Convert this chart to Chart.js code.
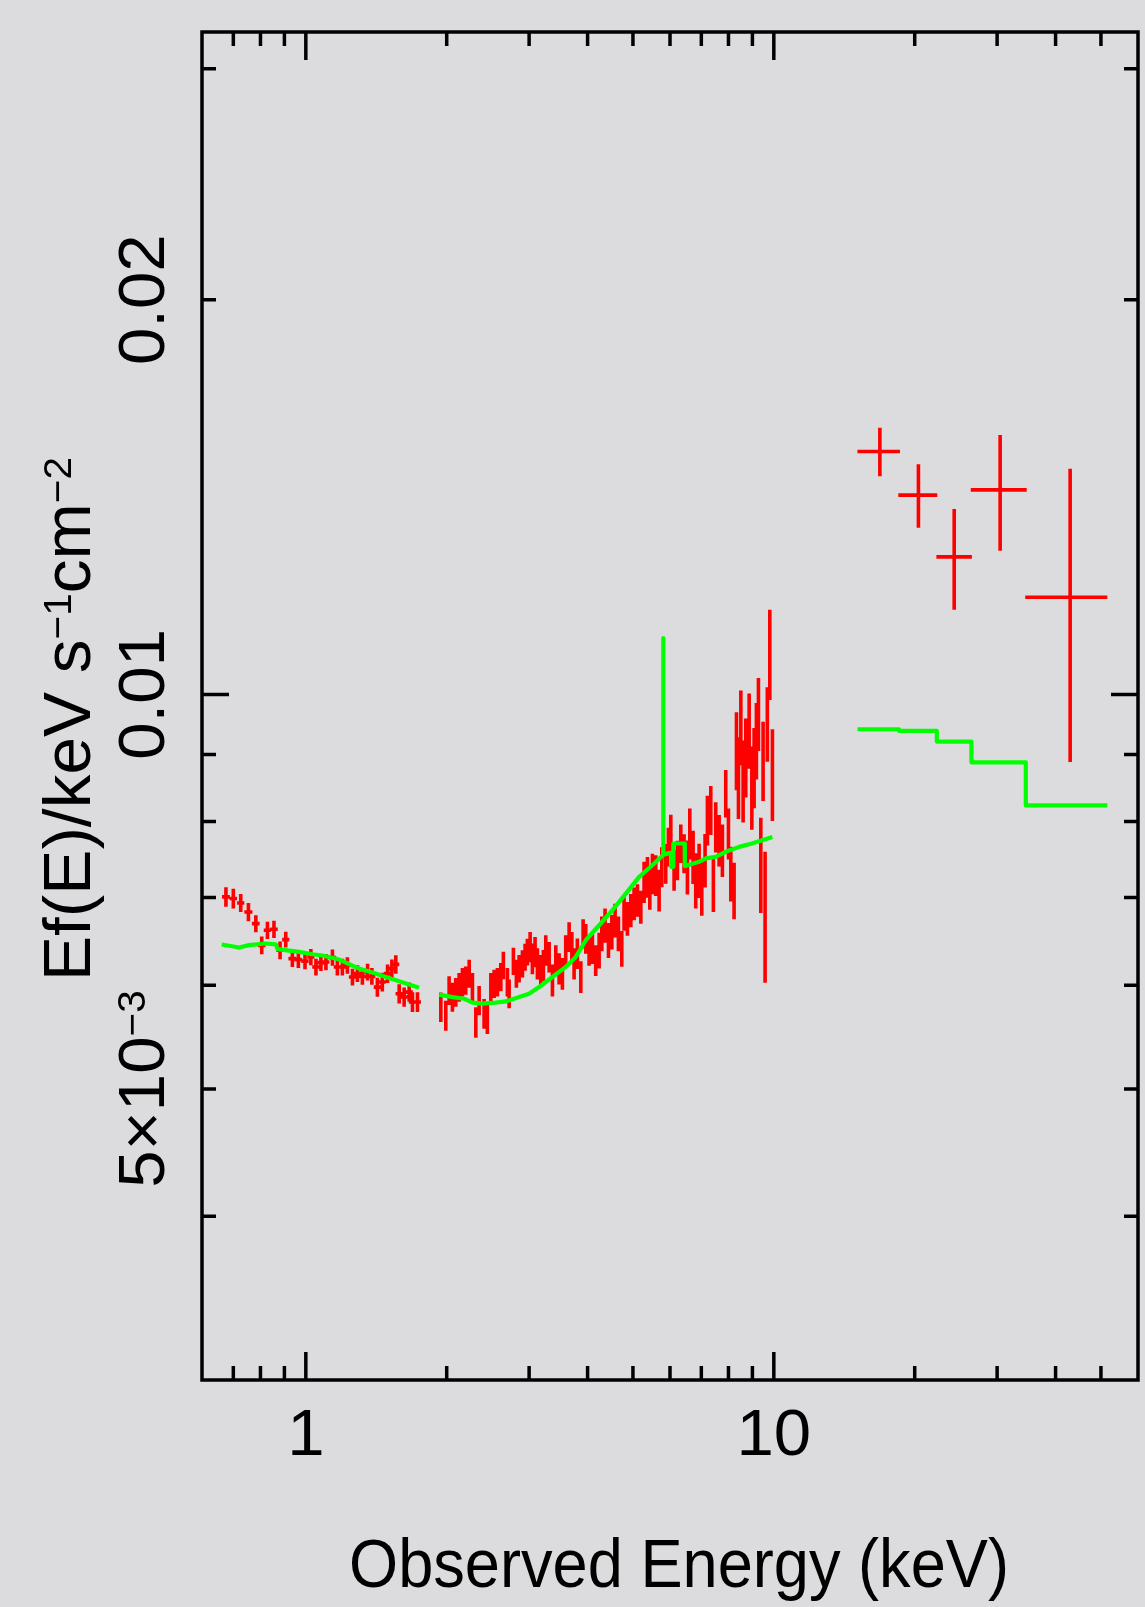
<!DOCTYPE html>
<html>
<head>
<meta charset="utf-8">
<script src="https://cdn.jsdelivr.net/npm/chart.js@4.4.1/dist/chart.umd.min.js"></script>
<style>
  html, body { margin: 0; padding: 0; background: #dcdcde; }
  canvas { display: block; }
</style>
</head>
<body>
<canvas id="spectrum" width="1145" height="1607"></canvas>
<script>
// flux values below are in units of 1e-3 (Ef(E)/keV s^-1 cm^-2)
const U = 1e-3;

// soft band, low energy part (keV)
const loE    = [0.675, 0.700, 0.726, 0.754, 0.782, 0.805, 0.828, 0.855, 0.881, 0.906, 0.936, 0.964, 0.996, 1.025, 1.051, 1.077, 1.104, 1.140, 1.168, 1.197, 1.227, 1.258, 1.289, 1.321, 1.355, 1.384, 1.422, 1.457, 1.495, 1.527, 1.557, 1.583, 1.622, 1.663, 1.690, 1.732];
const loEerr = [0.013, 0.013, 0.013, 0.015, 0.015, 0.015, 0.015, 0.016, 0.016, 0.016, 0.018, 0.018, 0.018, 0.018, 0.019, 0.019, 0.019, 0.021, 0.021, 0.021, 0.022, 0.022, 0.022, 0.024, 0.024, 0.024, 0.025, 0.025, 0.027, 0.027, 0.027, 0.028, 0.028, 0.030, 0.030, 0.030];
const loF    = [7.007, 6.987, 6.933, 6.824, 6.686, 6.436, 6.608, 6.620, 6.380, 6.501, 6.287, 6.276, 6.260, 6.305, 6.195, 6.243, 6.250, 6.298, 6.195, 6.195, 6.213, 6.088, 6.124, 6.095, 6.141, 6.095, 5.981, 6.034, 6.124, 6.178, 6.224, 5.912, 5.877, 5.928, 5.826, 5.826];
const loFerr = [0.12, 0.12, 0.11, 0.11, 0.10, 0.10, 0.10, 0.10, 0.10, 0.09, 0.09, 0.09, 0.09, 0.09, 0.09, 0.09, 0.09, 0.09, 0.09, 0.09, 0.09, 0.09, 0.09, 0.09, 0.09, 0.09, 0.10, 0.10, 0.10, 0.10, 0.10, 0.10, 0.10, 0.10, 0.10, 0.10];

// soft band, 2-10 keV part
const midE = [
  1.943, 1.991, 2.024, 2.057, 2.091, 2.126, 2.161, 2.196, 2.234, 2.270,
  2.308, 2.346, 2.404, 2.443, 2.485, 2.526, 2.567, 2.610, 2.643, 2.696,
  2.719, 2.777, 2.818, 2.856, 2.903, 2.941, 2.974, 3.015, 3.049, 3.089,
  3.125, 3.177, 3.218, 3.256, 3.311, 3.365, 3.421, 3.477, 3.534, 3.592,
  3.653, 3.702, 3.743, 3.804, 3.869, 3.913, 3.964, 4.030, 4.096, 4.163,
  4.234, 4.290, 4.359, 4.433, 4.507, 4.580, 4.655, 4.733, 4.786, 4.866,
  4.948, 5.028, 5.112, 5.198, 5.282, 5.370, 5.433, 5.503, 5.594, 5.687,
  5.763, 5.875, 5.954, 6.024, 6.122, 6.223, 6.327, 6.430, 6.537, 6.614,
  6.722, 6.810, 6.924, 7.016, 7.130, 7.213, 7.333, 7.428, 7.514, 7.640,
  7.765, 7.893, 7.999, 8.093, 8.224, 8.321, 8.403, 8.502, 8.598, 8.711,
  8.857, 8.975, 9.076, 9.178, 9.271, 9.380, 9.486, 9.579, 9.686, 9.804,
  9.931];
const midEerr = [
  0.016, 0.016, 0.016, 0.016, 0.017, 0.017, 0.017, 0.018, 0.018, 0.018,
  0.018, 0.019, 0.019, 0.020, 0.020, 0.020, 0.021, 0.021, 0.021, 0.022,
  0.022, 0.022, 0.023, 0.023, 0.023, 0.024, 0.024, 0.024, 0.024, 0.025,
  0.025, 0.025, 0.026, 0.026, 0.026, 0.027, 0.027, 0.028, 0.028, 0.029,
  0.029, 0.030, 0.030, 0.030, 0.031, 0.031, 0.032, 0.032, 0.033, 0.033,
  0.034, 0.034, 0.035, 0.035, 0.036, 0.037, 0.037, 0.038, 0.038, 0.039,
  0.040, 0.040, 0.041, 0.042, 0.042, 0.043, 0.043, 0.044, 0.045, 0.045,
  0.046, 0.047, 0.048, 0.048, 0.049, 0.050, 0.051, 0.051, 0.052, 0.053,
  0.054, 0.054, 0.055, 0.056, 0.057, 0.058, 0.059, 0.059, 0.060, 0.061,
  0.062, 0.063, 0.064, 0.065, 0.066, 0.067, 0.067, 0.068, 0.069, 0.070,
  0.071, 0.072, 0.073, 0.073, 0.074, 0.075, 0.076, 0.077, 0.077, 0.078,
  0.079];
const midF = [
  5.775, 5.690, 5.946, 5.877, 5.928, 5.980, 6.034, 6.052, 6.124, 5.980,
  5.623, 5.843, 5.708, 5.657, 5.980, 6.017, 6.034, 6.088, 6.213, 6.034,
  5.912, 6.260, 6.124, 6.178, 6.232, 6.305, 6.362, 6.418, 6.287, 6.362,
  6.232, 6.159, 6.213, 6.380, 6.305, 6.052, 6.268, 6.178, 6.124, 6.380,
  6.531, 6.418, 6.232, 6.343, 6.088, 6.569, 6.512, 6.380, 6.399, 6.268,
  6.380, 6.569, 6.666, 6.493, 6.589, 6.725, 6.569, 6.399, 6.804, 6.745,
  6.844, 6.925, 6.966, 6.884, 7.193, 7.257, 7.110, 7.300, 7.279, 7.089,
  7.387, 7.431, 7.651, 7.834, 7.344, 7.475, 7.696, 7.563, 7.387, 7.834,
  7.519, 7.215, 7.344, 7.130, 7.475, 8.020, 8.163, 7.173, 7.926, 7.741,
  7.607, 8.406, 7.834, 7.301, 7.089, 9.070, 8.655, 9.450, 8.604, 8.965,
  9.395, 8.504, 8.808, 9.231, 9.674, 7.431, 8.912, 6.806, 9.506, 10.75,
  8.706];
const midFerr = [
  0.15, 0.15, 0.15, 0.15, 0.15, 0.15, 0.15, 0.15, 0.15, 0.15,
  0.15, 0.15, 0.15, 0.15, 0.15, 0.15, 0.15, 0.15, 0.15, 0.15,
  0.15, 0.15, 0.15, 0.15, 0.15, 0.15, 0.15, 0.17, 0.17, 0.17,
  0.17, 0.17, 0.17, 0.17, 0.17, 0.17, 0.17, 0.17, 0.17, 0.17,
  0.17, 0.17, 0.17, 0.17, 0.17, 0.17, 0.17, 0.17, 0.17, 0.17,
  0.20, 0.20, 0.20, 0.20, 0.20, 0.20, 0.20, 0.20, 0.20, 0.20,
  0.20, 0.20, 0.20, 0.20, 0.26, 0.26, 0.26, 0.26, 0.26, 0.26,
  0.26, 0.26, 0.26, 0.26, 0.26, 0.26, 0.26, 0.26, 0.35, 0.35,
  0.35, 0.35, 0.35, 0.35, 0.35, 0.35, 0.35, 0.35, 0.35, 0.35,
  0.35, 0.35, 0.35, 0.35, 0.35, 0.62, 0.62, 0.62, 0.62, 0.62,
  0.62, 0.62, 0.62, 0.62, 0.62, 0.62, 0.62, 0.78, 0.62, 0.85,
  0.70];

// hard band bins (keV)
const hardE   = [16.85, 20.37, 24.29, 30.45, 42.97];
const hardELo = [15.09, 18.45, 22.25, 26.35, 34.45];
const hardEHi = [18.60, 22.35, 26.50, 34.70, 51.60];
const hardF   = [15.32, 14.19, 12.73, 14.32, 11.86];
const hardFLo = [14.67, 13.40, 11.60, 12.87, 8.88];
const hardFHi = [15.97, 14.98, 13.85, 15.77, 14.86];

// model curve
const modelLoE = [0.661, 0.720, 0.756, 0.821, 0.863, 0.870, 0.968, 1.033, 1.085, 1.178, 1.300, 1.388, 1.482, 1.583, 1.746];
const modelLoF = [6.446, 6.412, 6.438, 6.457, 6.446, 6.393, 6.362, 6.336, 6.322, 6.277, 6.178, 6.135, 6.088, 6.042, 5.975];
const modelMidE = [1.927, 2.057, 2.179, 2.270, 2.385, 2.547, 2.675, 2.857, 3.000, 3.151, 3.365, 3.594, 3.775, 3.966, 4.234, 4.520, 4.828, 5.155, 5.503, 5.800,
  5.800, 5.810, 5.810, 5.974, 6.030, 6.035, 6.095, 6.100, 6.450, 6.455, 6.490, 6.924, 7.160, 7.510, 7.890, 8.432, 8.980, 9.931];
const modelMidF = [5.902, 5.877, 5.860, 5.820, 5.809, 5.820, 5.832, 5.877, 5.912, 5.982, 6.088, 6.197, 6.306, 6.494, 6.667, 6.845, 7.047, 7.258, 7.408, 7.541,
  11.04, 11.04, 7.545, 7.567, 7.570, 7.387, 7.387, 7.696, 7.696, 7.397, 7.400, 7.453, 7.497, 7.518, 7.585, 7.651, 7.696, 7.785];
const modelHardEdges = [15.09, 18.52, 22.30, 26.44, 34.55, 51.60];
const modelHardF = [9.406, 9.378, 9.204, 8.875, 8.229];

// axes
const xMin = 0.6, xMax = 60;
const yMin = 0.003, yMax = 0.032;
const xMajorTicks = [1, 10];
const xMinorTicks = [0.7, 0.8, 0.9, 2, 3, 4, 5, 6, 7, 8, 9, 20, 30, 40, 50];
const yMajorTicks = [0.01];
const yMinorTicks = [0.004, 0.005, 0.006, 0.007, 0.008, 0.009, 0.02, 0.03];
const xTickValues = [1, 10];
const xTickLabels = ['1', '10'];
const yTickValues = [0.02, 0.01, 0.005];
const yTickLabels = [[{t: '0.02'}], [{t: '0.01'}], [{t: '5×10'}, {t: '−3', sup: true}]];
const xTitle = [{t: 'Observed Energy (keV)'}];
const yTitle = [{t: 'Ef(E)/keV s'}, {t: '−1', sup: true}, {t: 'cm'}, {t: '−2', sup: true}];

const FONT = '"Liberation Sans", Arial, Helvetica, sans-serif';

function crosses(E, eLo, eHi, F, fLo, fHi) {
  const pts = [];
  for (let i = 0; i < E.length; i++) {
    pts.push({x: eLo[i], y: F[i] * U}, {x: eHi[i], y: F[i] * U}, {x: E[i], y: null});
    pts.push({x: E[i], y: fLo[i] * U}, {x: E[i], y: fHi[i] * U}, {x: E[i], y: null});
  }
  return pts;
}

function symCrosses(E, dE, F, dF) {
  return crosses(E, E.map((e, i) => e - dE[i]), E.map((e, i) => e + dE[i]),
    F, F.map((f, i) => f - dF[i]), F.map((f, i) => f + dF[i]));
}

const redPoints = [].concat(
  symCrosses(loE, loEerr, loF, loFerr),
  symCrosses(midE, midEerr, midF, midFerr),
  crosses(hardE, hardELo, hardEHi, hardF, hardFLo, hardFHi)
);

const modelPoints = [];
modelLoE.forEach((e, i) => modelPoints.push({x: e, y: modelLoF[i] * U}));
modelPoints.push({x: 1.8, y: null});
modelMidE.forEach((e, i) => modelPoints.push({x: e, y: modelMidF[i] * U}));
modelPoints.push({x: 12, y: null});
modelHardF.forEach((f, i) => {
  modelPoints.push({x: modelHardEdges[i], y: f * U}, {x: modelHardEdges[i + 1], y: f * U});
});

function runsWidth(ctx, runs, size) {
  let w = 0;
  runs.forEach(r => {
    ctx.font = (r.sup ? size * 0.6 : size) + 'px ' + FONT;
    w += ctx.measureText(r.t).width;
  });
  return w;
}

function placeRuns(ctx, runs, size, sx, x, y, rot, align) {
  const w = runsWidth(ctx, runs, size) * sx;
  ctx.save();
  ctx.translate(x, y);
  ctx.rotate(rot);
  ctx.textAlign = 'left';
  ctx.textBaseline = 'alphabetic';
  let pos = align === 'center' ? -w / 2 : 0;
  runs.forEach(r => {
    const fs = r.sup ? size * 0.6 : size;
    ctx.font = fs + 'px ' + FONT;
    ctx.save();
    ctx.translate(pos, r.sup ? -size * 0.29 : 0);
    ctx.scale(sx, 1);
    ctx.fillText(r.t, 0, 0);
    ctx.restore();
    pos += ctx.measureText(r.t).width * sx;
  });
  ctx.restore();
}

const framePlugin = {
  id: 'frame',
  beforeDraw(chart) {
    const ctx = chart.ctx;
    ctx.save();
    ctx.fillStyle = '#dcdcde';
    ctx.fillRect(0, 0, chart.width, chart.height);
    ctx.restore();
  },
  afterDraw(chart) {
    const ctx = chart.ctx;
    const a = chart.chartArea;
    const xs = chart.scales.x, ys = chart.scales.y;
    ctx.save();
    ctx.strokeStyle = '#000';
    ctx.fillStyle = '#000';
    ctx.lineWidth = 3.5;
    ctx.lineCap = 'butt';
    ctx.strokeRect(a.left, a.top, a.right - a.left, a.bottom - a.top);

    ctx.beginPath();
    const xTick = (v, len) => {
      const p = xs.getPixelForValue(v);
      ctx.moveTo(p, a.bottom); ctx.lineTo(p, a.bottom - len);
      ctx.moveTo(p, a.top); ctx.lineTo(p, a.top + len);
    };
    const yTick = (v, len) => {
      const p = ys.getPixelForValue(v);
      ctx.moveTo(a.left, p); ctx.lineTo(a.left + len, p);
      ctx.moveTo(a.right, p); ctx.lineTo(a.right - len, p);
    };
    xMajorTicks.forEach(v => xTick(v, 28));
    xMinorTicks.forEach(v => xTick(v, 14));
    yMajorTicks.forEach(v => yTick(v, 27));
    yMinorTicks.forEach(v => yTick(v, 14));
    ctx.stroke();

    xTickValues.forEach((v, i) => {
      placeRuns(ctx, [{t: xTickLabels[i]}], 64, 1.05, xs.getPixelForValue(v), 1455, 0, 'center');
    });
    yTickValues.forEach((v, i) => {
      placeRuns(ctx, yTickLabels[i], 64, 1.05, 164, ys.getPixelForValue(v), -Math.PI / 2, 'center');
    });

    const sxX = 660 / runsWidth(ctx, xTitle, 68);
    placeRuns(ctx, xTitle, 68, sxX, 679, 1587, 0, 'center');
    const sxY = 524 / runsWidth(ctx, yTitle, 66);
    placeRuns(ctx, yTitle, 66, sxY, 90, 981, -Math.PI / 2, 'left');
    ctx.restore();
  }
};

new Chart(document.getElementById('spectrum'), {
  type: 'line',
  data: {
    datasets: [
      {
        label: 'model',
        data: modelPoints,
        borderColor: '#00ff00',
        borderWidth: 4.2,
        borderJoinStyle: 'round',
        pointRadius: 0,
        fill: false,
        spanGaps: false,
        order: 0
      },
      {
        label: 'data',
        data: redPoints,
        borderColor: '#ff0000',
        borderWidth: 3.6,
        pointRadius: 0,
        fill: false,
        spanGaps: false,
        order: 1
      }
    ]
  },
  options: {
    responsive: false,
    animation: false,
    devicePixelRatio: 1,
    layout: { padding: { left: 202, right: 7, top: 32, bottom: 227 } },
    plugins: { legend: { display: false }, tooltip: { enabled: false } },
    scales: {
      x: { type: 'logarithmic', min: xMin, max: xMax, display: false },
      y: { type: 'logarithmic', min: yMin, max: yMax, display: false }
    }
  },
  plugins: [framePlugin]
});
</script>
</body>
</html>
